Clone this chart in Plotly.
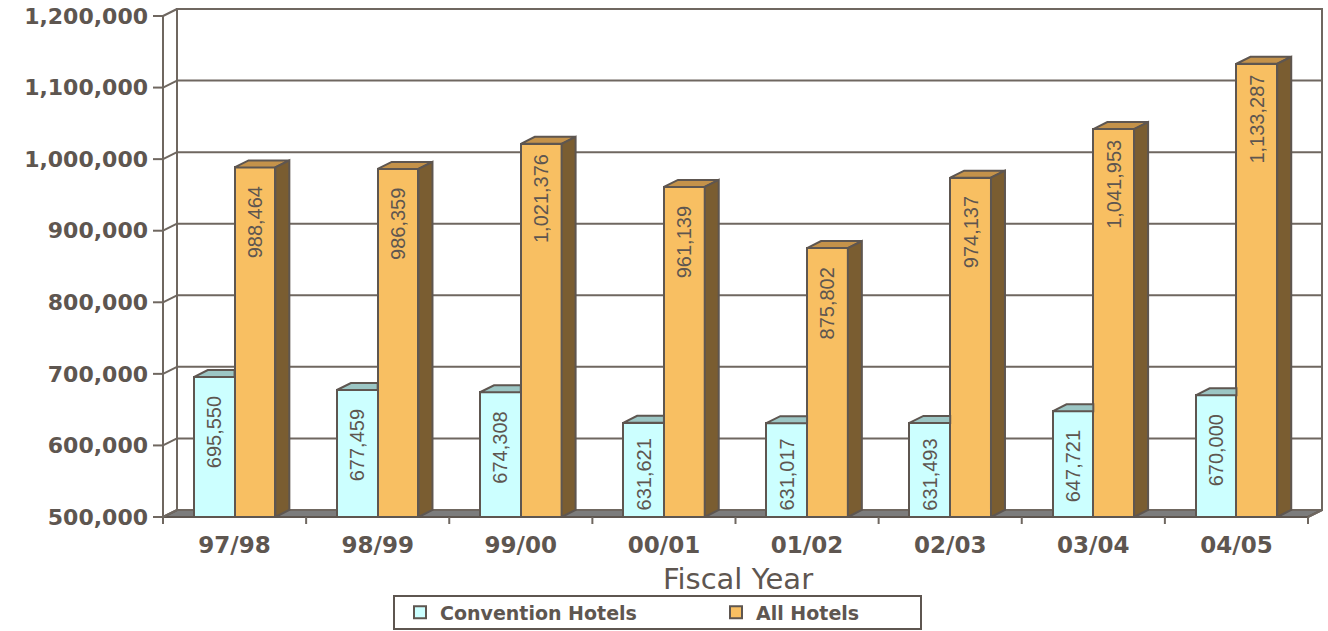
import plotly.graph_objects as go

# ---- data -------------------------------------------------------------
years = ["97/98", "98/99", "99/00", "00/01", "01/02", "02/03", "03/04", "04/05"]
convention_hotels = [695550, 677459, 674308, 631621, 631017, 631493, 647721, 670000]
all_hotels = [988464, 986359, 1021376, 961139, 875802, 974137, 1041953, 1133287]
y_ticks = [500000, 600000, 700000, 800000, 900000, 1000000, 1100000, 1200000]
series_names = ["Convention Hotels", "All Hotels"]
axis_title = "Fiscal Year"

# ---- style ------------------------------------------------------------
INK = "#5E5650"
GRID = "#6F6760"
FLOOR_FILL = "#7C7C7C"
CONV_FRONT, CONV_TOP = "#CCFFFF", "#9CC6C4"
ALL_FRONT, ALL_TOP, ALL_SIDE = "#F8BF62", "#C4924A", "#7A5D31"
FONT = "DejaVu Sans"
LABEL_FONT = "Liberation Sans, Arial, sans-serif"

# ---- geometry (pixels) ------------------------------------------------
W, H = 1328, 631
FRONT_LEFT, FRONT_RIGHT = 163, 1308      # front edge of the floor
FLOOR_PX, TOP_PX = 517, 16               # front scale: lowest / highest tick
DEPTH_X, DEPTH_Y = 14, 7                 # oblique depth of walls and columns
PLOT_L, PLOT_R, PLOT_T, PLOT_B = 150, 1326, 6, 527
BAR_W = 0.285                            # column width in category units
LEGEND_BOX = (394, 921, 596, 629)        # left, right, top, bottom
LEGEND_ITEM_X = (400, 716)               # left edge of each legend entry

n = len(years)
y_lo, y_hi = y_ticks[0], y_ticks[-1]
x_scale = (FRONT_RIGHT - FRONT_LEFT) / n
y_scale = (FLOOR_PX - TOP_PX) / (y_hi - y_lo)
dxu = DEPTH_X / x_scale
dyu = DEPTH_Y / y_scale
x_range = [-0.5 - (FRONT_LEFT - PLOT_L) / x_scale, n - 0.5 + (PLOT_R - FRONT_RIGHT) / x_scale]
y_range = [y_lo - (PLOT_B - FLOOR_PX) / y_scale, y_hi + (TOP_PX - PLOT_T) / y_scale]
xl, xr = -0.5, n - 0.5
plot_w, plot_h = PLOT_R - PLOT_L, PLOT_B - PLOT_T


def paper_x(px):
    return (px - PLOT_L) / plot_w


def paper_y(py):
    return (PLOT_B - py) / plot_h


fig = go.Figure()

# front faces of the columns
fig.add_trace(go.Bar(
    name=series_names[0], x=list(range(n)),
    y=[v - y_lo for v in convention_hotels], base=y_lo,
    offset=-BAR_W, width=BAR_W, legend="legend",
    marker=dict(color=CONV_FRONT, line=dict(color=INK, width=2)),
    customdata=convention_hotels, hovertemplate="%{customdata:,}<extra></extra>",
))
fig.add_trace(go.Bar(
    name=series_names[1], x=list(range(n)),
    y=[v - y_lo for v in all_hotels], base=y_lo,
    offset=0, width=BAR_W, legend="legend2",
    marker=dict(color=ALL_FRONT, line=dict(color=INK, width=2)),
    customdata=all_hotels, hovertemplate="%{customdata:,}<extra></extra>",
))


def faces(polys, fill):
    xs, ys = [], []
    for px, py in polys:
        xs += px + [px[0], None]
        ys += py + [py[0], None]
    return go.Scatter(x=xs, y=ys, mode="lines", fill="toself", fillcolor=fill,
                      line=dict(color=INK, width=2), hoverinfo="skip",
                      showlegend=False)


# top faces of convention columns (right part hidden by the taller neighbour)
conv_tops = [([i - BAR_W, i, i, i - BAR_W + dxu], [v, v, v + dyu, v + dyu])
             for i, v in enumerate(convention_hotels)]
all_tops = [([i, i + BAR_W, i + BAR_W + dxu, i + dxu], [v, v, v + dyu, v + dyu])
            for i, v in enumerate(all_hotels)]
all_sides = [([i + BAR_W, i + BAR_W, i + BAR_W + dxu, i + BAR_W + dxu],
              [y_lo, v, v + dyu, y_lo + dyu]) for i, v in enumerate(all_hotels)]
fig.add_trace(faces(conv_tops, CONV_TOP))
fig.add_trace(faces(all_tops, ALL_TOP))
fig.add_trace(faces(all_sides, ALL_SIDE))

# ---- walls, floor and axis furniture ----------------------------------
shapes = []
line = dict(color=GRID, width=2)
shapes.append(dict(type="path", layer="below", xref="x", yref="y",
                   path=f"M{xl},{y_lo} L{xr},{y_lo} L{xr + dxu},{y_lo + dyu} L{xl + dxu},{y_lo + dyu} Z",
                   fillcolor=FLOOR_FILL, line=dict(color=INK, width=2)))
shapes.append(dict(type="rect", layer="below", xref="x", yref="y",
                   x0=xl + dxu, x1=xr + dxu, y0=y_lo + dyu, y1=y_hi + dyu,
                   fillcolor="white", line=line))
for t in y_ticks:
    # back-wall gridline
    shapes.append(dict(type="line", layer="below", xref="x", yref="y",
                       x0=xl + dxu, x1=xr + dxu, y0=t + dyu, y1=t + dyu, line=line))
    # side-wall connector
    shapes.append(dict(type="line", layer="below", xref="x", yref="y",
                       x0=xl, x1=xl + dxu, y0=t, y1=t + dyu, line=line))
    # tick mark on the front axis
    shapes.append(dict(type="line", layer="below", xref="x", yref="y",
                       x0=xl - 10 / x_scale, x1=xl, y0=t, y1=t, line=line))
# front value axis
shapes.append(dict(type="line", layer="below", xref="x", yref="y",
                   x0=xl, x1=xl, y0=y_lo - 7 / y_scale, y1=y_hi, line=line))
# category boundary ticks
for b in range(n + 1):
    xb = b - 0.5
    shapes.append(dict(type="line", layer="below", xref="x", yref="y",
                       x0=xb, x1=xb, y0=y_lo, y1=y_lo - 7 / y_scale, line=line))
# right edge of floor
shapes.append(dict(type="line", layer="below", xref="x", yref="y",
                   x0=xr, x1=xr + dxu, y0=y_lo, y1=y_lo + dyu, line=line))
# frame around the two legend entries
bl, br, bt, bb = LEGEND_BOX
shapes.append(dict(type="rect", xref="paper", yref="paper",
                   x0=paper_x(bl), x1=paper_x(br), y0=paper_y(bb), y1=paper_y(bt),
                   fillcolor="white", line=dict(color=INK, width=2), layer="below"))

# ---- value labels -----------------------------------------------------
def text_len(s):
    return sum(5.6 if c == "," else 11.1 for c in s)


annotations = []
for series, off in ((convention_hotels, -BAR_W / 2), (all_hotels, BAR_W / 2)):
    for i, v in enumerate(series):
        label = f"{v:,}"
        h_px = (v - y_lo) * y_scale
        shift = min(55, h_px - 6 - text_len(label) / 2)
        annotations.append(dict(
            x=i + off, y=v, xref="x", yref="y", text=label, showarrow=False,
            textangle=-90, xanchor="center", yanchor="middle", yshift=-shift,
            font=dict(family=LABEL_FONT, size=20, color=INK)))

legend_common = dict(orientation="h", xanchor="left", yanchor="middle",
                     y=paper_y((bt + bb) / 2), bgcolor="rgba(0,0,0,0)",
                     borderwidth=0, itemclick=False, itemdoubleclick=False,
                     font=dict(family=FONT, size=19, color=INK, weight="bold"))

fig.update_layout(
    width=W, height=H, autosize=False,
    margin=dict(l=PLOT_L, r=W - PLOT_R, t=PLOT_T, b=H - PLOT_B, autoexpand=False),
    paper_bgcolor="white", plot_bgcolor="white",
    barmode="overlay", bargap=0,
    shapes=shapes, annotations=annotations,
    xaxis=dict(range=x_range, tickvals=list(range(n)), ticktext=years,
               ticks="", showgrid=False, zeroline=False, showline=False,
               tickfont=dict(family=FONT, size=23, color=INK, weight="bold"),
               ticklabelstandoff=2,
               title=dict(text=axis_title, standoff=11,
                          font=dict(family=FONT, size=29, color=INK)),
               fixedrange=True),
    yaxis=dict(range=y_range, tickvals=y_ticks, ticktext=[f"{t:,}" for t in y_ticks],
               ticks="", showgrid=False, zeroline=False, showline=False,
               tickfont=dict(family=FONT, size=22, color=INK, weight="bold"),
               ticklabelstandoff=1, fixedrange=True),
    legend=dict(x=paper_x(LEGEND_ITEM_X[0]), **legend_common),
    legend2=dict(x=paper_x(LEGEND_ITEM_X[1]), **legend_common),
    showlegend=True,
)

fig.write_html("out.html")
